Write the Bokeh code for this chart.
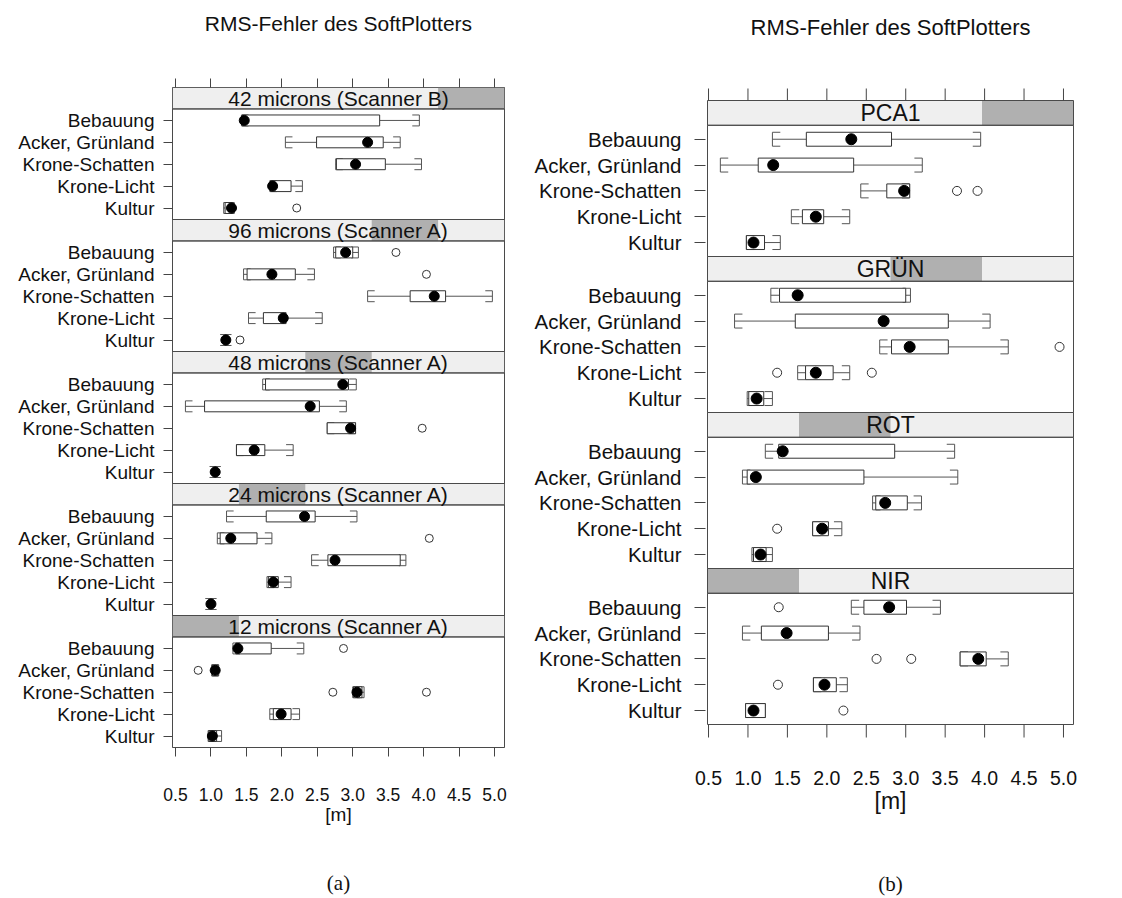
from bokeh.plotting import figure
from bokeh.layouts import row
from bokeh.models import Range1d, FixedTicker, LinearAxis
from bokeh.core.properties import value
from bokeh.embed import file_html
from bokeh.resources import INLINE

# ---------------- data ----------------
categories = ["Bebauung", "Acker, Grünland", "Krone-Schatten", "Krone-Licht", "Kultur"]
x_ticks = [0.5, 1.0, 1.5, 2.0, 2.5, 3.0, 3.5, 4.0, 4.5, 5.0]
x_tick_labels = ["0.5", "1.0", "1.5", "2.0", "2.5", "3.0", "3.5", "4.0", "4.5", "5.0"]
main_title = "RMS-Fehler des SoftPlotters"
x_label = "[m]"

# (a) panels, top to bottom
panels_a = ["42 microns (Scanner B)", "96 microns (Scanner A)", "48 microns (Scanner A)",
            "24 microns (Scanner A)", "12 microns (Scanner A)"]
a_low = [[1.43, 2.05, 2.76, 1.83, 1.18],
         [2.73, 1.46, 3.21, 1.53, 1.19],
         [1.73, 0.64, 2.64, 1.36, 1.04],
         [1.22, 1.09, 2.42, 1.79, 0.98],
         [1.31, 1.01, 3.00, 1.83, 0.96]]
a_q1 = [[1.44, 2.49, 2.77, 1.84, 1.20],
        [2.76, 1.51, 3.81, 1.74, 1.20],
        [1.77, 0.91, 2.64, 1.36, 1.05],
        [1.78, 1.13, 2.65, 1.81, 0.99],
        [1.35, 1.02, 3.01, 1.88, 0.97]]
a_med = [[1.47, 3.21, 3.04, 1.87, 1.29],
         [2.90, 1.86, 4.15, 2.02, 1.21],
         [2.86, 2.40, 2.97, 1.61, 1.06],
         [2.32, 1.28, 2.75, 1.88, 1.00],
         [1.38, 1.06, 3.06, 1.99, 1.02]]
a_q3 = [[3.38, 3.43, 3.46, 2.13, 1.31],
        [3.00, 2.19, 4.31, 2.06, 1.22],
        [2.94, 2.53, 3.04, 1.76, 1.07],
        [2.47, 1.65, 3.67, 1.95, 1.01],
        [1.85, 1.10, 3.13, 2.13, 1.08]]
a_high = [[3.94, 3.67, 3.97, 2.29, 1.33],
          [3.08, 2.46, 4.97, 2.57, 1.23],
          [3.05, 2.91, 3.04, 2.16, 1.08],
          [3.06, 1.86, 3.75, 2.13, 1.02],
          [2.31, 1.11, 3.16, 2.25, 1.15]]
a_outliers = [[(4, 2.21)],
              [(0, 3.61), (1, 4.04), (4, 1.41)],
              [(2, 3.98)],
              [(1, 4.08)],
              [(0, 2.87), (1, 0.82), (2, 2.72), (2, 4.04)]]

# (b) panels, top to bottom
panels_b = ["PCA1", "GRÜN", "ROT", "NIR"]
b_low = [[1.31, 0.65, 2.43, 1.55, 0.98],
         [1.29, 0.83, 2.67, 1.63, 0.99],
         [1.22, 0.93, 2.58, 1.82, 1.05],
         [2.31, 0.93, 3.69, 1.83, 0.97]]
b_q1 = [[1.74, 1.13, 2.76, 1.69, 0.98],
        [1.40, 1.60, 2.82, 1.73, 1.01],
        [1.39, 0.99, 2.62, 1.82, 1.07],
        [2.47, 1.17, 3.69, 1.83, 0.97]]
b_med = [[2.31, 1.32, 2.98, 1.86, 1.07],
         [1.63, 2.72, 3.05, 1.86, 1.11],
         [1.44, 1.10, 2.74, 1.94, 1.16],
         [2.79, 1.49, 3.92, 1.97, 1.07]]
b_q3 = [[2.82, 2.34, 3.05, 1.96, 1.21],
        [3.00, 3.54, 3.54, 2.08, 1.20],
        [2.86, 2.47, 3.02, 2.02, 1.23],
        [3.01, 2.02, 4.02, 2.12, 1.22]]
b_high = [[3.95, 3.21, 3.05, 2.29, 1.41],
          [3.06, 4.07, 4.30, 2.29, 1.31],
          [3.62, 3.66, 3.20, 2.19, 1.31],
          [3.44, 2.42, 4.30, 2.26, 1.22]]
b_outliers = [[(2, 3.65), (2, 3.91)],
              [(2, 4.95), (3, 1.37), (3, 2.57)],
              [(3, 1.37)],
              [(0, 1.39), (2, 2.63), (2, 3.07), (3, 1.38), (4, 2.21)]]

FONT = "Liberation Sans"
BORDER = "#4a4a4a"
BOXC = "#333333"
WHISK = "#555555"
TICKC = "#444444"
FIG_H = 898
BT, BB = 87, 151   # shared top/bottom borders (row aligns them)


def build(panels, low, q1, med, q3, high, outliers, cfg):
    n = len(panels)
    H, S = cfg["H"], cfg["S"]
    P = H + S
    T = n * P
    x0, x1 = cfg["xr"]
    frame_h = FIG_H - BT - BB
    frame_w = cfg["width"] - cfg["bl"] - cfg["br"]
    upp = T / (frame_h - cfg["pad_t"] - cfg["pad_b"])
    xupp = (x1 - x0) / (frame_w - 2 * cfg["pad_x"])
    p = figure(width=cfg["width"], height=FIG_H,
               x_range=Range1d(x0 - cfg["pad_x"] * xupp, x1 + cfg["pad_x"] * xupp),
               y_range=Range1d(-cfg["pad_b"] * upp, T + cfg["pad_t"] * upp),
               x_axis_type=None, y_axis_type=None,
               output_backend="svg", toolbar_location=None,
               min_border_left=cfg["bl"], min_border_right=cfg["br"],
               min_border_top=BT, min_border_bottom=BB)
    p.grid.visible = False
    p.outline_line_color = BORDER if cfg["outline"] else None
    p.outline_line_width = 1
    p.background_fill_color = "white"
    p.border_fill_color = "white"

    bh = cfg["bh"]
    stub = 0.1
    ypos_all, names_all = [], []
    box = dict(l=[], r=[], b=[], t=[])
    wh = dict(x0=[], y0=[], x1=[], y1=[])
    cap = dict(x0=[], y0=[], x1=[], y1=[])
    md = dict(x=[], y=[])
    ol = dict(x=[], y=[])
    pan = dict(l=[], r=[], b=[], t=[])
    strip = dict(l=[], r=[], b=[], t=[])
    dark = dict(l=[], r=[], b=[], t=[])
    stxt = dict(x=[], y=[], text=[])

    for k, name in enumerate(panels):
        j = n - 1 - k
        base = j * P
        pan["l"].append(x0); pan["r"].append(x1); pan["b"].append(base); pan["t"].append(base + H)
        strip["l"].append(x0); strip["r"].append(x1); strip["b"].append(base + H); strip["t"].append(base + P)
        dark["l"].append(x0 + j / n * (x1 - x0)); dark["r"].append(x0 + (j + 1) / n * (x1 - x0))
        dark["b"].append(base + H); dark["t"].append(base + P)
        stxt["x"].append((x0 + x1) / 2); stxt["y"].append(base + H + S / 2); stxt["text"].append(name)
        for i, cat in enumerate(categories):
            y = round(base + cfg["off"] + (len(categories) - 1 - i), 4)
            ypos_all.append(y); names_all.append(cat)
            lo, a, m, b, hi = low[k][i], q1[k][i], med[k][i], q3[k][i], high[k][i]
            box["l"].append(a); box["r"].append(b); box["b"].append(y - bh); box["t"].append(y + bh)
            for (u, v) in ((lo, a), (b, hi)):
                wh["x0"].append(u); wh["x1"].append(v); wh["y0"].append(y); wh["y1"].append(y)
            for (xc, d) in ((lo, stub), (hi, -stub)):
                cap["x0"].append(xc); cap["x1"].append(xc); cap["y0"].append(y - bh); cap["y1"].append(y + bh)
                cap["x0"].append(xc); cap["x1"].append(xc + d); cap["y0"].append(y - bh); cap["y1"].append(y - bh)
                cap["x0"].append(xc); cap["x1"].append(xc + d); cap["y0"].append(y + bh); cap["y1"].append(y + bh)
            md["x"].append(m); md["y"].append(y)
        for (ci, v) in outliers[k]:
            y = base + cfg["off"] + (len(categories) - 1 - ci)
            ol["x"].append(v); ol["y"].append(y)

    # strips and panel borders
    p.quad(left=strip["l"], right=strip["r"], bottom=strip["b"], top=strip["t"],
           fill_color="#efefef", line_color=None)
    p.quad(left=dark["l"], right=dark["r"], bottom=dark["b"], top=dark["t"],
           fill_color="#b0b0b0", line_color=None)
    p.quad(left=strip["l"], right=strip["r"], bottom=strip["b"], top=strip["t"],
           fill_color=None, line_color=BORDER, line_width=1)
    p.quad(left=pan["l"], right=pan["r"], bottom=pan["b"], top=pan["t"],
           fill_color=None, line_color=BORDER, line_width=1)
    p.text(x=stxt["x"], y=stxt["y"], text=stxt["text"], text_align="center",
           text_baseline="middle", text_font=value(FONT),
           text_font_size=value(cfg["strip_fs"]), text_color="#111111")

    # outer x ticks drawn inside the padded frame (panel b)
    if cfg["manual_ticks"]:
        tt, tb = cfg["tick_t"] * upp, cfg["tick_b"] * upp
        p.segment(x0=x_ticks, x1=x_ticks, y0=[T] * len(x_ticks), y1=[T + tt] * len(x_ticks),
                  line_color=TICKC, line_width=1)
        p.segment(x0=x_ticks, x1=x_ticks, y0=[0] * len(x_ticks), y1=[-tb] * len(x_ticks),
                  line_color=TICKC, line_width=1)

    # boxplots
    p.segment(x0=wh["x0"], y0=wh["y0"], x1=wh["x1"], y1=wh["y1"], line_color=WHISK, line_width=1)
    p.segment(x0=cap["x0"], y0=cap["y0"], x1=cap["x1"], y1=cap["y1"], line_color=WHISK, line_width=1)
    p.quad(left=box["l"], right=box["r"], bottom=box["b"], top=box["t"],
           fill_color="white", line_color=BOXC, line_width=1)
    p.scatter(x=ol["x"], y=ol["y"], marker="circle", size=cfg["osz"], fill_color=None,
              line_color="#333333", line_width=1)
    p.scatter(x=md["x"], y=md["y"], marker="circle", size=cfg["msz"], fill_color="black",
              line_color="black")

    # y axis with category names
    yax = LinearAxis(ticker=FixedTicker(ticks=ypos_all),
                     major_label_overrides={y: nm for y, nm in zip(ypos_all, names_all)})
    yax.axis_line_color = None
    yax.major_tick_out = cfg["ytick"]
    yax.major_tick_in = 0
    yax.major_tick_line_color = TICKC
    yax.minor_tick_line_color = None
    yax.major_label_standoff = cfg["ystand"]
    yax.major_label_text_font = FONT
    yax.major_label_text_font_size = cfg["ylab_fs"]
    yax.major_label_text_color = "#111111"
    p.add_layout(yax, "left")

    axis_tick = 0 if cfg["manual_ticks"] else 9
    # top axis (ticks only) carrying the title
    tax = LinearAxis(ticker=FixedTicker(ticks=x_ticks),
                     major_label_overrides={t: "" for t in x_ticks})
    tax.axis_line_color = None
    tax.major_tick_out = axis_tick
    tax.major_tick_in = 0
    tax.major_tick_line_color = TICKC
    tax.minor_tick_line_color = None
    tax.major_label_text_font_size = "10px"
    tax.major_label_standoff = 0
    tax.axis_label = main_title
    tax.axis_label_text_font = FONT
    tax.axis_label_text_font_style = "normal"
    tax.axis_label_text_font_size = cfg["title_fs"]
    tax.axis_label_text_color = "#111111"
    tax.axis_label_standoff = cfg["title_stand"]
    p.add_layout(tax, "above")

    # bottom axis
    bax = LinearAxis(ticker=FixedTicker(ticks=x_ticks),
                     major_label_overrides={t: l for t, l in zip(x_ticks, x_tick_labels)})
    bax.axis_line_color = None
    bax.major_tick_out = axis_tick
    bax.major_tick_in = 0
    bax.major_tick_line_color = TICKC
    bax.minor_tick_line_color = None
    bax.major_label_standoff = cfg["xstand"]
    bax.major_label_text_font = FONT
    bax.major_label_text_font_size = cfg["xlab_fs"]
    bax.major_label_text_color = "#111111"
    bax.axis_label = x_label
    bax.axis_label_text_font = FONT
    bax.axis_label_text_font_style = "normal"
    bax.axis_label_text_font_size = cfg["xtitle_fs"]
    bax.axis_label_text_color = "#111111"
    bax.axis_label_standoff = cfg["xtitle_stand"]
    p.add_layout(bax, "below")

    # caption as the label of an empty axis below
    cax = LinearAxis(ticker=FixedTicker(ticks=[]))
    cax.axis_line_color = None
    cax.major_tick_line_color = None
    cax.minor_tick_line_color = None
    cax.major_tick_out = 0
    cax.major_label_standoff = 0
    cax.axis_label = cfg["caption"]
    cax.axis_label_text_font = "Liberation Serif"
    cax.axis_label_text_font_style = "normal"
    cax.axis_label_text_font_size = "21px"
    cax.axis_label_text_color = "#111111"
    cax.axis_label_standoff = cfg["cap_stand"]
    p.add_layout(cax, "below")
    return p


cfg_a = dict(width=520, bl=172, br=16, xr=(0.4577, 5.141), pad_t=0, pad_b=0, pad_x=0,
             outline=True, manual_ticks=False, tick_t=0, tick_b=0, ytick=9,
             H=5.05, S=0.98, off=0.525, bh=0.25, strip_fs="21px", ylab_fs="19px",
             xlab_fs="17.5px", xtitle_fs="19px", title_fs="21px", title_stand=44,
             xstand=31, xtitle_stand=0, ystand=9, osz=8, msz=10, caption="(a)",
             cap_stand=43)
cfg_b = dict(width=602, bl=185, br=47, xr=(0.487, 5.127), pad_t=13, pad_b=23, pad_x=2,
             outline=False, manual_ticks=True, tick_t=12, tick_b=13, ytick=11,
             H=5.08, S=0.96, off=0.54, bh=0.27, strip_fs="23px", ylab_fs="20.5px",
             xlab_fs="19.5px", xtitle_fs="23px", title_fs="22px", title_stand=48,
             xstand=23, xtitle_stand=0, ystand=13, osz=9, msz=11, caption="(b)",
             cap_stand=55)

pa = build(panels_a, a_low, a_q1, a_med, a_q3, a_high, a_outliers, cfg_a)
pb = build(panels_b, b_low, b_q1, b_med, b_q3, b_high, b_outliers, cfg_b)

layout = row(pa, pb)
open("out.html", "w").write(file_html(layout, INLINE))
